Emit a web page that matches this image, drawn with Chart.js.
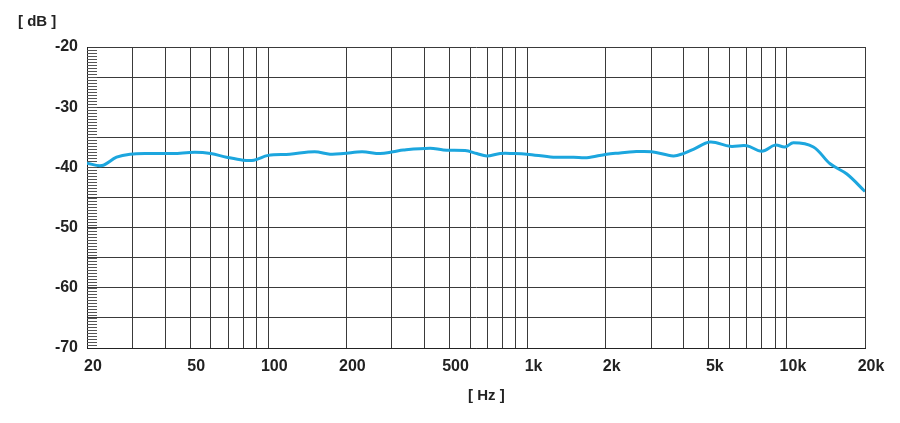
<!DOCTYPE html>
<html>
<head>
<meta charset="utf-8">
<script src="https://cdn.jsdelivr.net/npm/chart.js@4"></script>
<style>
  html, body { margin: 0; padding: 0; background: #ffffff; }
  #wrap { width: 900px; height: 423px; position: relative; }
</style>
</head>
<body>
<div id="wrap"><canvas id="c" width="900" height="423"></canvas></div>
<script>
// Frequency response data (Hz, dB)
const freqHz = [20, 22.8, 26, 29.3, 35, 43, 52, 60, 69, 80, 88, 100, 121, 151, 173, 195, 230, 270, 303, 332, 421, 473, 574, 637, 696, 784, 881, 993, 1257, 1502, 1691, 2017, 2273, 2557, 3009, 3646, 3986, 4358, 5053, 6038, 7003, 7998, 8998, 9836, 10594, 12648, 14672, 17025, 20000];
const levelDb = [-39.3, -39.7, -38.3, -37.8, -37.7, -37.7, -37.5, -37.7, -38.3, -38.8, -38.8, -38.0, -37.8, -37.4, -37.8, -37.7, -37.4, -37.7, -37.4, -37.1, -36.8, -37.1, -37.2, -37.7, -38.1, -37.7, -37.7, -37.8, -38.3, -38.3, -38.4, -37.8, -37.6, -37.4, -37.4, -38.1, -37.7, -37.0, -35.8, -36.5, -36.4, -37.3, -36.3, -36.6, -35.9, -36.6, -39.4, -41.1, -44.0];

// Axis grid / labels
const gridFreqs = [20, 30, 40, 50, 60, 70, 80, 90, 100, 200, 300, 400, 500, 600, 700, 800, 900, 1000, 2000, 3000, 4000, 5000, 6000, 7000, 8000, 9000, 10000, 20000];
const labeledFreqs = [20, 50, 100, 200, 500, 1000, 2000, 5000, 10000, 20000];
const freqLabels = ['20', '50', '100', '200', '500', '1k', '2k', '5k', '10k', '20k'];
const dbMin = -70, dbMax = -20, dbGridStep = 5, dbLabelStep = 10, dbMinorStep = 0.5;
const xTitle = '\u00a0\u00a0\u00a0\u00a0\u00a0[ Hz ]';
const yTitle = '[ dB ]';

const FONT = "'Liberation Sans', Arial, Helvetica, sans-serif";
const TEXT = '#222222';

const minorTicks = {
  id: 'minorTicks',
  beforeDatasetsDraw(chart) {
    const y = chart.scales.y;
    const left = chart.chartArea.left;
    const ctx = chart.ctx;
    ctx.save();
    ctx.strokeStyle = '#555555';
    ctx.lineWidth = 1;
    ctx.beginPath();
    for (let v = dbMin + dbMinorStep; v < dbMax; v += dbMinorStep) {
      const py = Math.round(y.getPixelForValue(v)) + 0.5;
      ctx.moveTo(left, py);
      ctx.lineTo(left + 10, py);
    }
    ctx.stroke();
    ctx.restore();
  }
};

new Chart(document.getElementById('c'), {
  type: 'line',
  data: {
    datasets: [{
      data: freqHz.map((f, i) => ({ x: f, y: levelDb[i] })),
      borderColor: '#1ca6de',
      borderWidth: 3,
      pointRadius: 0,
      tension: 0.35,
      fill: false
    }]
  },
  options: {
    responsive: false,
    animation: false,
    devicePixelRatio: 1,
    layout: { padding: { left: 18, right: 35, top: 0, bottom: 0 } },
    plugins: {
      legend: { display: false },
      tooltip: { enabled: false },
      title: {
        display: true,
        text: yTitle,
        align: 'start',
        color: TEXT,
        font: { family: FONT, size: 15, weight: 'bold', lineHeight: 1.2 },
        padding: { top: 13, bottom: 16 }
      }
    },
    scales: {
      x: {
        type: 'logarithmic',
        min: 20,
        max: 20000,
        afterBuildTicks(scale) { scale.ticks = gridFreqs.map(v => ({ value: v })); },
        afterFit(scale) { scale.height = 75; },
        grid: { color: '#3a3a3a', lineWidth: 1, drawTicks: false },
        border: { display: true, color: '#222222', width: 1 },
        ticks: {
          autoSkip: false,
          maxRotation: 0,
          padding: 9,
          labelOffset: 6,
          color: TEXT,
          font: { family: FONT, size: 16, weight: 'bold' },
          callback(value) {
            const i = labeledFreqs.indexOf(value);
            return i >= 0 ? freqLabels[i] : '';
          }
        },
        title: {
          display: true,
          text: xTitle,
          color: TEXT,
          font: { family: FONT, size: 15, weight: 'bold', lineHeight: 1.2 },
          padding: { top: 0, bottom: 18 }
        }
      },
      y: {
        min: dbMin,
        max: dbMax,
        afterFit(scale) { scale.width = 69; },
        grid: { color: '#3a3a3a', lineWidth: 1, drawTicks: false },
        border: { display: true, color: '#222222', width: 1 },
        ticks: {
          stepSize: dbGridStep,
          padding: 9,
          color: TEXT,
          font: { family: FONT, size: 16, weight: 'bold' },
          callback(value) { return value % dbLabelStep === 0 ? String(value) : ''; }
        }
      }
    }
  },
  plugins: [minorTicks]
});
</script>
</body>
</html>
